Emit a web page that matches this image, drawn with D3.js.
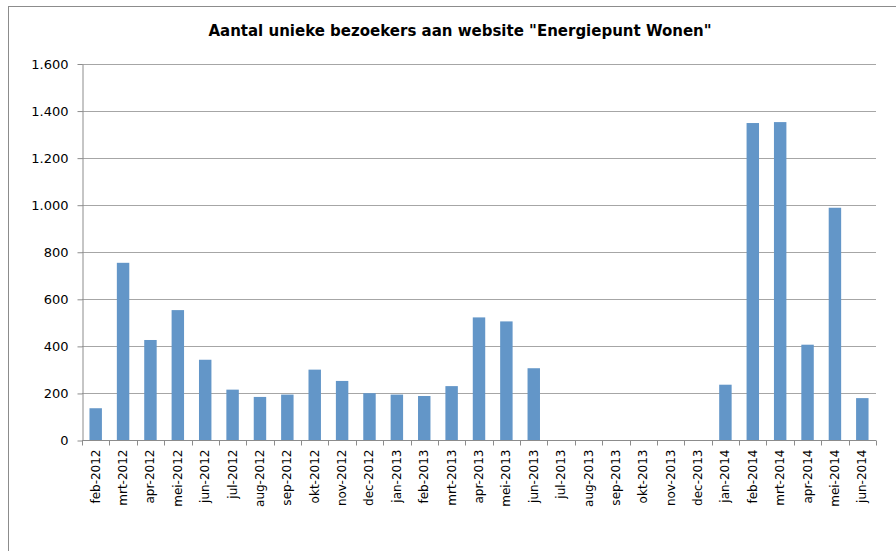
<!DOCTYPE html>
<html>
<head>
<meta charset="utf-8">
<script src="https://cdn.jsdelivr.net/npm/d3@7"></script>
<style>
  body { margin: 0; background: #fff; }
  svg { display: block; font-family: "DejaVu Sans", Verdana, sans-serif; }
</style>
</head>
<body>
<div id="chart"></div>
<script>
// months and number of unique visitors
const months = ["feb-2012", "mrt-2012", "apr-2012", "mei-2012", "jun-2012", "jul-2012",
    "aug-2012", "sep-2012", "okt-2012", "nov-2012", "dec-2012", "jan-2013", "feb-2013",
    "mrt-2013", "apr-2013", "mei-2013", "jun-2013", "jul-2013", "aug-2013", "sep-2013",
    "okt-2013", "nov-2013", "dec-2013", "jan-2014", "feb-2014", "mrt-2014", "apr-2014",
    "mei-2014", "jun-2014"];
const visitors = [135, 753, 425, 552, 341, 214, 183, 193, 299, 251, 199, 193, 187,
    229, 521, 504, 305, 0, 0, 0, 0, 0, 0, 235, 1347, 1351, 405, 987, 178];
const yTicks = [0, 200, 400, 600, 800, 1000, 1200, 1400, 1600];
const title = 'Aantal unieke bezoekers aan website "Energiepunt Wonen"';

const width = 896;
const height = 551;
const plot = {left: 82, right: 876, top: 63.5, bottom: 440};

const nl = d3.formatLocale({decimal: ",", thousands: ".", grouping: [3], currency: ["€", ""]});
const fmt = nl.format(",d");

const svg = d3.select("#chart").append("svg")
    .attr("width", width)
    .attr("height", height);

svg.append("rect")
    .attr("width", width).attr("height", height)
    .attr("fill", "#fff");

// chart frame (runs off the picture at right and bottom)
svg.append("rect")
    .attr("x", 8.5).attr("y", 6.5)
    .attr("width", 900).attr("height", 560)
    .attr("fill", "none")
    .attr("stroke", "#8c8c8c");

svg.append("text")
    .attr("x", 460)
    .attr("y", 36)
    .attr("text-anchor", "middle")
    .attr("font-weight", "bold")
    .attr("font-size", "15px")
    .attr("fill", "#000")
    .text(title);

const x = d3.scaleBand()
    .domain(months)
    .range([plot.left, plot.right])
    .padding(0);

const y = d3.scaleLinear()
    .domain([0, 1600])
    .range([plot.bottom, plot.top]);

// gridlines
svg.append("g")
    .selectAll("line")
    .data(yTicks.filter(d => d > 0))
    .enter().append("line")
    .attr("x1", plot.left).attr("x2", plot.right)
    .attr("y1", d => Math.round(y(d)) + 0.5)
    .attr("y2", d => Math.round(y(d)) + 0.5)
    .attr("stroke", "#a6a6a6");

// bars, gap width 120%
const barW = x.bandwidth() / 2.2;
svg.append("g")
    .selectAll("rect")
    .data(months.map((m, i) => ({month: m, value: visitors[i]})).filter(d => d.value > 0))
    .enter().append("rect")
    .attr("x", d => x(d.month) + (x.bandwidth() - barW) / 2)
    .attr("y", d => y(d.value))
    .attr("width", barW)
    .attr("height", d => y(0) - y(d.value))
    .attr("fill", "#6396c8");

// y axis
const yAxis = svg.append("g")
    .attr("transform", `translate(${plot.left + 0.5},0.5)`)
    .call(d3.axisLeft(y).tickValues(yTicks).tickFormat(fmt).tickSize(5).tickSizeOuter(0).tickPadding(9));
yAxis.select(".domain").attr("stroke", "#8c8c8c");
yAxis.selectAll(".tick line").attr("stroke", "#8c8c8c");
yAxis.selectAll(".tick text")
    .attr("font-size", "13px")
    .attr("font-family", "DejaVu Sans, sans-serif")
    .attr("fill", "#000");

// x axis, ticks between categories
const xAxis = svg.append("g")
    .attr("transform", `translate(0,${plot.bottom + 0.5})`);
xAxis.append("line")
    .attr("x1", plot.left).attr("x2", plot.right)
    .attr("stroke", "#8c8c8c");
xAxis.selectAll(".sep")
    .data(months.concat(["end"]))
    .enter().append("line")
    .attr("class", "sep")
    .attr("x1", (d, i) => Math.round(plot.left + i * x.step()) + 0.5)
    .attr("x2", (d, i) => Math.round(plot.left + i * x.step()) + 0.5)
    .attr("y1", 0).attr("y2", 5)
    .attr("stroke", "#8c8c8c");
xAxis.selectAll(".lbl")
    .data(months)
    .enter().append("text")
    .attr("class", "lbl")
    .attr("transform", d => `translate(${x(d) + x.bandwidth() / 2 + 4},9) rotate(-90)`)
    .attr("text-anchor", "end")
    .attr("font-size", "12px")
    .attr("fill", "#000")
    .text(d => d);
</script>
</body>
</html>
